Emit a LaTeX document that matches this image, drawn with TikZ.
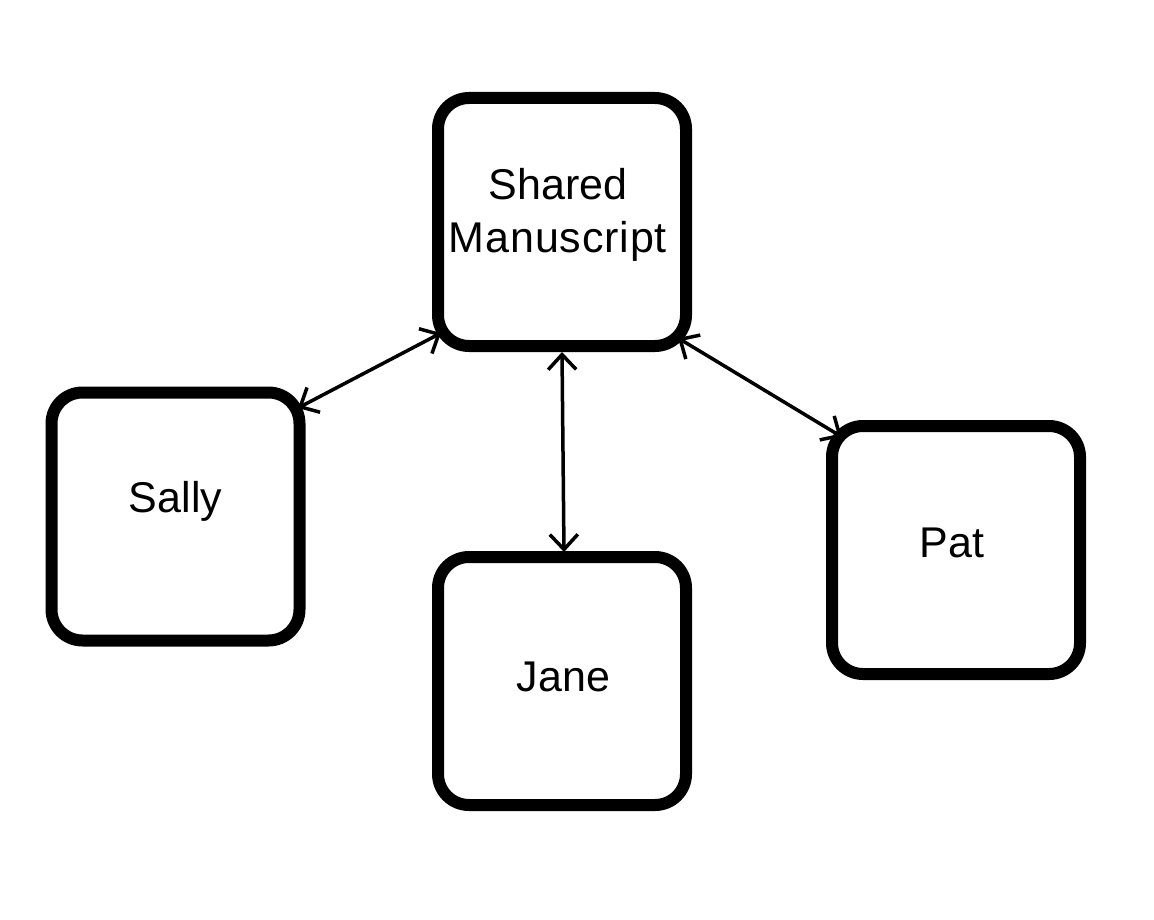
\documentclass[tikz,border=0pt]{standalone}
\usepackage{fontspec}
\setmainfont{Liberation Sans}
\usetikzlibrary{arrows.meta}
\tikzset{
  box/.style={draw=black, line width=12pt, rounded corners=31pt, minimum width=248pt, minimum height=248pt, inner sep=0pt, outer sep=0pt},
  lbl/.style={font=\fontsize{43}{52.5}\selectfont, inner sep=0pt, align=center},
  link/.style={line width=3.5pt, {Straight Barb[length=15pt,width=28pt,line cap=butt,line join=miter]}-{Straight Barb[length=15pt,width=28pt,line cap=butt,line join=miter]}}
}
\begin{document}
\begin{tikzpicture}[x=1pt,y=-1pt]
\useasboundingbox (0,0) rectangle (1154,920);
\node[box] (shared) at (562,222) {};
\node[box] (sally) at (175.5,516.5) {};
\node[box] (jane) at (562,681) {};
\node[box] (pat) at (956,550) {};
\node[lbl] (tshared) at (558,214.8) {Shared\\{\addfontfeatures{LetterSpace=2}Manuscript}};
\node[lbl, anchor=base] (tsally) at (175.5,512.5) {Sally};
\node[lbl, anchor=base] (tjane) at (563.5,691.5) {Jane};
\node[lbl, anchor=base] (tpat) at (952,557) {Pat};
\draw[link] ([shift={(-1.5,15.5)}]sally.north east) -- ([shift={(3,-13)}]shared.south west);
\draw[link] ([shift={(0,6)}]shared.south) -- ([shift={(2,-5)}]jane.north);
\draw[link] ([shift={(-8,-8)}]shared.south east) -- ([shift={(10,11)}]pat.north west);
\end{tikzpicture}
\end{document}
